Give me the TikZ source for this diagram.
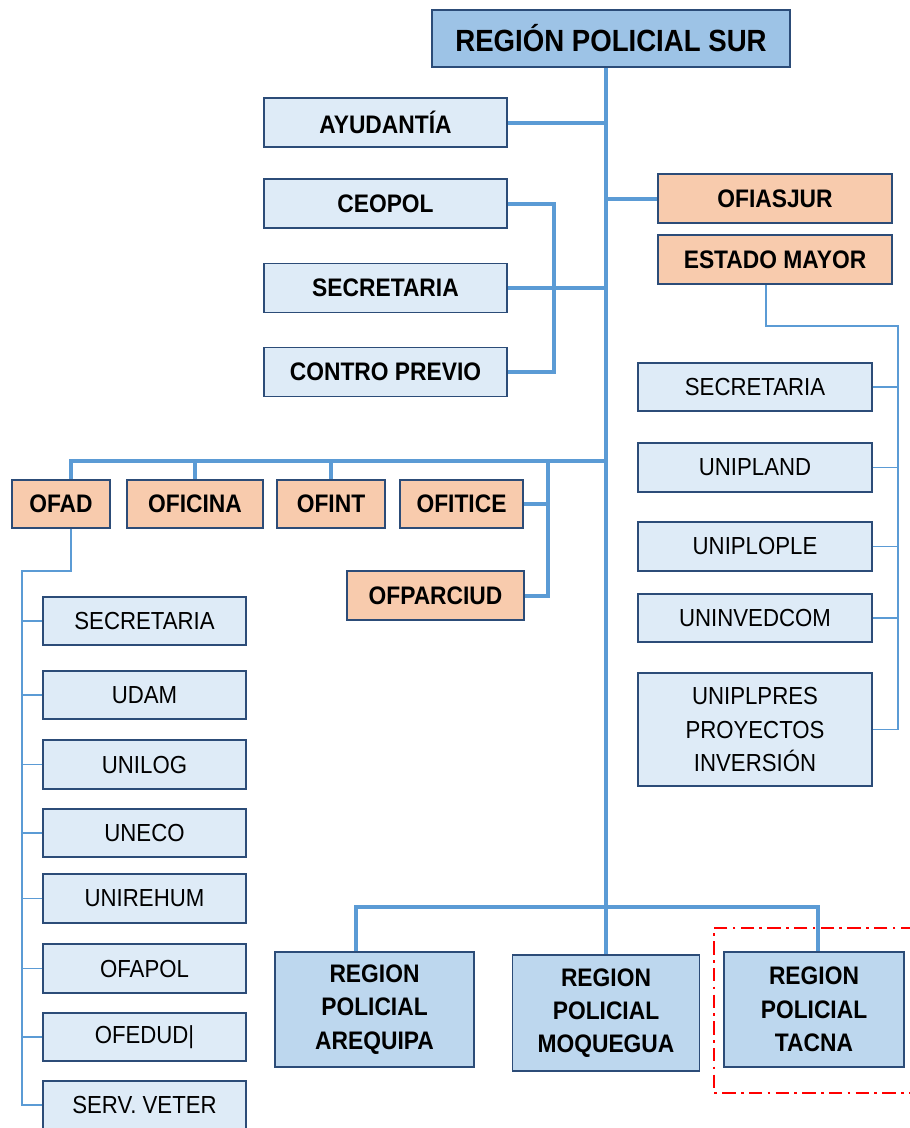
\documentclass[tikz,border=0pt]{standalone}
\usepackage{fontspec}
\setmainfont{Liberation Sans}[FakeStretch=0.9]
\usetikzlibrary{calc}
\definecolor{orgedge}{HTML}{2C4C78}
\definecolor{orgline}{HTML}{5B9BD5}
\definecolor{orghead}{HTML}{9DC3E6}
\definecolor{orgregion}{HTML}{BDD7EE}
\definecolor{orgunit}{HTML}{DEEBF7}
\definecolor{orgoffice}{HTML}{F8CBAD}

\begin{document}
\begin{tikzpicture}[
    x=0.75pt, y=-0.75pt,
    box/.style={
        draw=orgedge,
        line width=1.4pt,
        align=center,
        inner sep=0pt
    },
    head/.style={box, fill=orghead, font=\fontsize{23}{27}\selectfont\bfseries,
        minimum width=268.5pt, minimum height=42.75pt},
    staff/.style={box, fill=orgunit, font=\fontsize{19}{22}\selectfont\bfseries,
        minimum width=182.25pt, minimum height=36.75pt},
    office/.style={box, fill=orgoffice, font=\fontsize{19}{22}\selectfont\bfseries,
        minimum height=36.5pt},
    unit/.style={box, fill=orgunit, font=\fontsize{18.5}{25}\selectfont,
        minimum height=36.5pt},
    region/.style={box, fill=orgregion, font=\fontsize{19}{25}\selectfont\bfseries,
        minimum height=86.5pt},
    link/.style={draw=orgline, line width=3pt},
    sub/.style={draw=orgline, line width=1.3pt},
    redbox/.style={draw=red, line width=2pt,
        dash pattern=on 10pt off 4pt on 2pt off 4pt}
]
\useasboundingbox (0,0) rectangle (910,1128);

% Head and staff offices
\node[head] (sur) at (611,38.5) {REGIÓN POLICIAL SUR};
\node[staff] (ayud) at (385.5,122.5) {AYUDANTÍA};
\node[staff] (ceopol) at (385.5,203.5) {CEOPOL};
\node[staff] (secre) at (385.5,288) {SECRETARIA};
\node[staff] (contro) at (385.5,372) {CONTRO PREVIO};
\node[office,minimum width=175.5pt] (ofiasjur) at (775,198.5) {OFIASJUR};
\node[office,minimum width=175.5pt] (estado) at (775,259.5) {ESTADO MAYOR};

% Estado Mayor units
\node[unit,minimum width=175.5pt] (rsec) at (755,387) {SECRETARIA};
\node[unit,minimum width=175.5pt] (uniplan) at (755,467.5) {UNIPLAND};
\node[unit,minimum width=175.5pt] (uniplople) at (755,546.5) {UNIPLOPLE};
\node[unit,minimum width=175.5pt] (uninved) at (755,618) {UNINVEDCOM};
\node[unit,minimum width=175.5pt,minimum height=84.75pt] (uniplpres) at (755,729.5)
    {UNIPLPRES\\PROYECTOS\\INVERSIÓN};

% Row of offices
\node[office,minimum width=73.5pt] (ofad) at (61,504) {OFAD};
\node[office,minimum width=102pt] (oficina) at (195,504) {OFICINA};
\node[office,minimum width=81pt] (ofint) at (331,504) {OFINT};
\node[office,minimum width=92.25pt] (ofitice) at (461.5,504) {OFITICE};
\node[office,minimum width=132.75pt] (ofparciud) at (435.5,595.5) {OFPARCIUD};

% OFAD units
\node[unit,minimum width=152.25pt] (lsec) at (144.5,621) {SECRETARIA};
\node[unit,minimum width=152.25pt] (udam) at (144.5,695) {UDAM};
\node[unit,minimum width=152.25pt] (unilog) at (144.5,764.5) {UNILOG};
\node[unit,minimum width=152.25pt] (uneco) at (144.5,833) {UNECO};
\node[unit,minimum width=152.25pt] (unirehum) at (144.5,898.5) {UNIREHUM};
\node[unit,minimum width=152.25pt] (ofapol) at (144.5,968.5) {OFAPOL};
\node[unit,minimum width=152.25pt] (ofedud) at (144.5,1037) {OFEDUD|};
\node[unit,minimum width=152.25pt] (serv) at (144.5,1105) {SERV. VETER};

% Regions
\node[region,minimum width=149.25pt] (areq) at (374.5,1009.5) {REGION\\POLICIAL\\AREQUIPA};
\node[region,minimum width=140.25pt] (moq) at (606,1013) {REGION\\POLICIAL\\MOQUEGUA};
\node[region,minimum width=135pt] (tacna) at (814,1009.5) {REGION\\POLICIAL\\TACNA};

% Trunk and staff links
\draw[link] (sur.south -| moq.north) -- (moq.north);
\draw[link] (ayud.east) -- (ayud.east -| moq.north);
\draw[link] (secre.east) -- (secre.east -| moq.north);
\draw[link] (ofiasjur.west) -- (ofiasjur.west -| moq.north);
\coordinate (ceobrk) at (554,0);
\draw[link] (ceopol.east) -| (ceobrk |- contro.east) -- (contro.east);

% Office row
\coordinate (rowbar) at (0,461);
\coordinate (ofibrk) at (548,461);
\draw[link] ($(ofad.north)+(10,0)$) |- (rowbar -| moq.north);
\draw[link] (oficina.north) -- (oficina.north |- rowbar);
\draw[link] (ofint.north) -- (ofint.north |- rowbar);
\draw[link] (ofitice.east) -- (ofitice.east -| ofibrk);
\draw[link] (ofibrk) |- (ofparciud.east);

% Estado Mayor branch
\coordinate (rbus) at (898,326);
\draw[sub] ($(estado.south)+(-9,0)$) |- (rbus) |- (uniplpres.east);
\foreach \n in {rsec,uniplan,uniplople,uninved}
    \draw[sub] (\n.east) -- (\n.east -| rbus);

% OFAD branch
\coordinate (lbus) at (22,571);
\draw[sub] ($(ofad.south)+(10,0)$) |- (lbus) |- (serv.west);
\foreach \n in {lsec,udam,unilog,uneco,unirehum,ofapol,ofedud}
    \draw[sub] (\n.west) -- (\n.west -| lbus);

% Regions
\coordinate (botbar) at (0,907);
\draw[link] ($(areq.north)+(-19,0)$) |- ($(tacna.north |- botbar)+(4,0)$)
    -- ($(tacna.north)+(4,0)$);

% Highlight
\draw[redbox] (914,928) -| (714,1093) -- (914,1093);

\end{tikzpicture}
\end{document}
